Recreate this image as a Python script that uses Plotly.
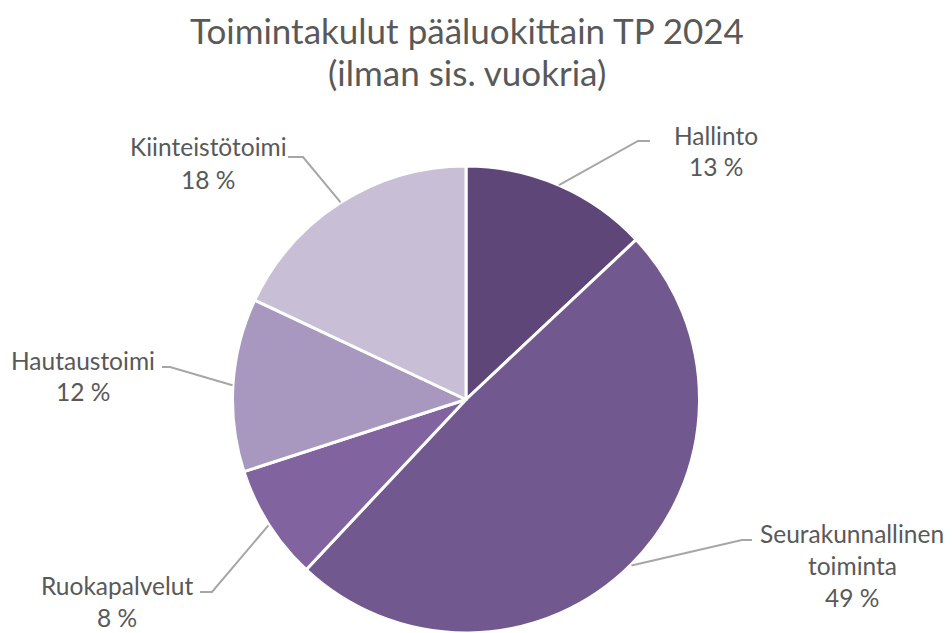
import math

from plotly import graph_objs as go

# data
categories = ["Hallinto", "Seurakunnallinen toiminta", "Ruokapalvelut", "Hautaustoimi", "Kiinteistötoimi"]
label_lines = [["Hallinto"], ["Seurakunnallinen", "toiminta"], ["Ruokapalvelut"], ["Hautaustoimi"], ["Kiinteistötoimi"]]
shares = [13, 49, 8, 12, 18]
colors = ["#5e4778", "#71598f", "#8163a0", "#a898bf", "#c8bfd7"]
title_lines = ["Toimintakulut pääluokittain TP 2024", "(ilman sis. vuokria)"]

# the page body has an 8px margin, so the figure sits at (8, 8) in the window
OFF = 8
W, H = 952 - OFF, 633 - OFF
CX, CY, R = 466, 400, 234  # window pixels
FONT = "Lato"
GREY = "#595959"

# label layout in window pixels: (text centre x, first line y, elbow, line end)
label_pos = [
    (716, 135, (638, 141), (650, 141)),
    (852, 533, (742, 540), (752, 540)),
    (117, 585, (212, 592), (200, 592)),
    (83, 360, (170, 367), (162, 367)),
    (208, 147, (303, 157), (288, 157)),
]
LINE_GAP = 32


def px(x):
    return (x - OFF) / W


def py(y):
    return 1 - (y - OFF) / H


fig = go.Figure(go.Pie(
    labels=categories, values=shares, sort=False, direction="clockwise", rotation=0,
    marker=dict(colors=colors, line=dict(color="white", width=3)),
    textinfo="none", hoverinfo="label+percent", showlegend=False,
    domain=dict(x=[px(CX - R), px(CX + R)], y=[max(0, py(CY + R)), py(CY - R)]),
))

annotations = []
shapes = []
total = sum(shares)
cum = 0
for name_lines, v, (tx, ty, elbow, end) in zip(label_lines, shares, label_pos):
    a = 2 * math.pi * (cum + v / 2) / total
    cum += v
    ex, ey = CX + R * math.sin(a), CY - R * math.cos(a)
    path = "M {} {} L {} {} L {} {}".format(px(ex), py(ey), px(elbow[0]), py(elbow[1]), px(end[0]), py(end[1]))
    shapes.append(dict(type="path", xref="paper", yref="paper", path=path,
                       line=dict(color="#a6a6a6", width=2)))
    lines = name_lines + ["{} %".format(round(100 * v / total))]
    for i, t in enumerate(lines):
        annotations.append(dict(text=t, x=px(tx), y=py(ty + i * LINE_GAP), xref="paper", yref="paper",
                                xanchor="center", yanchor="middle", showarrow=False,
                                font=dict(family=FONT, size=24.5, color=GREY)))

for i, t in enumerate(title_lines):
    annotations.append(dict(text=t, x=px(467), y=py(30 + i * 42), xref="paper", yref="paper",
                            xanchor="center", yanchor="middle", showarrow=False,
                            font=dict(family=FONT, size=35, color=GREY)))

fig.update_layout(
    width=W, height=H, margin=dict(l=0, r=0, t=0, b=0),
    paper_bgcolor="white", plot_bgcolor="white",
    annotations=annotations, shapes=shapes,
)

fig.write_html("out.html")
